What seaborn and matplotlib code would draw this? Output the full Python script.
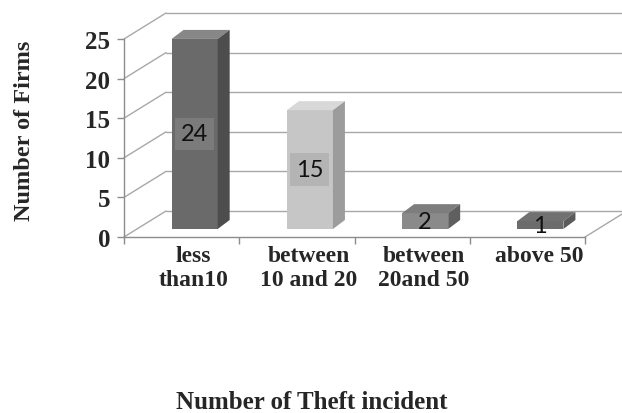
import numpy as np
import pandas as pd
import seaborn as sns
import matplotlib
matplotlib.use("Agg")
import matplotlib.pyplot as plt
from matplotlib.patches import Polygon
from matplotlib.transforms import Affine2D, ScaledTranslation

# ---- data ----
categories = ["less\nthan10", "between\n10 and 20", "between\n20and 50", "above 50"]
values = [24, 15, 2, 1]
y_ticks = [0, 5, 10, 15, 20, 25]
x_title = "Number of Theft incident"
y_title = "Number of Firms"

# ---- styles ----
front_colors = ["#6a6a6a", "#c6c6c6", "#8a8a8a", "#6c6c6c"]
top_colors = ["#878787", "#d8d8d8", "#7d7d7d", "#717171"]
side_colors = ["#4d4d4d", "#9c9c9c", "#5f5f5f", "#5a5a5a"]
box_colors = ["#7b7b7b", "#b4b4b4", None, None]
grid_color = "#a8a8a8"
serif = ["Liberation Serif", "DejaVu Serif"]

sns.set_theme(style="white")
plt.rcParams["font.family"] = serif

W, H = 622, 414
fig = plt.figure(figsize=(W / 100, H / 100), dpi=100)
ax_l, ax_r, ax_b, ax_t = 124, 585, 238, 40
ax = fig.add_axes([ax_l / W, (H - ax_b) / H, (ax_r - ax_l) / W, (ax_b - ax_t) / H])
ax.patch.set_alpha(0)

df = pd.DataFrame({"cat": categories, "n": values})
sns.barplot(data=df, x="cat", y="n", hue="cat", palette=front_colors,
            legend=False, width=0.4, saturation=1, ax=ax, zorder=3)
ax.set_xlim(-0.5, len(categories) - 0.5)
ax.set_ylim(0, y_ticks[-1])

xl, xr = ax.get_xlim()
yb, yt = ax.get_ylim()
ux = (xr - xl) / (ax_r - ax_l)   # data units per pixel
uy = (yt - yb) / (ax_b - ax_t)

# walls (pseudo-3D decoration)
wdx, wdy = 42 * ux, 26 * uy
for t in y_ticks:
    ax.plot([xl + wdx, xr + wdx + 0.3], [t + wdy, t + wdy], color=grid_color,
            lw=1.0, clip_on=False, zorder=1)
    ax.plot([xl, xl + wdx], [t, t + wdy], color=grid_color, lw=1.0,
            clip_on=False, zorder=1)
ax.plot([xr, xr + wdx], [0, wdy], color=grid_color, lw=1.0, clip_on=False, zorder=1)

# bars: front face shift + top & side faces
f0x, f0y = 13 * ux, 8 * uy
f1x, f1y = 25 * ux, 17 * uy
for i, p in enumerate(ax.patches[:len(values)]):
    x, w, h = p.get_x(), p.get_width(), p.get_height()
    p.set_transform(Affine2D().translate(f0x, f0y) + ax.transData)
    p.set_edgecolor("none")
    top = Polygon([(x + f0x, h + f0y), (x + w + f0x, h + f0y),
                   (x + w + f1x, h + f1y), (x + f1x, h + f1y)],
                  closed=True, facecolor=top_colors[i], edgecolor="none",
                  zorder=3, clip_on=False)
    side = Polygon([(x + w + f0x, f0y), (x + w + f1x, f1y),
                    (x + w + f1x, h + f1y), (x + w + f0x, h + f0y)],
                   closed=True, facecolor=side_colors[i], edgecolor="none",
                   zorder=3, clip_on=False)
    ax.add_patch(top)
    ax.add_patch(side)
    bbox = None
    if box_colors[i]:
        bbox = dict(facecolor=box_colors[i], edgecolor="none", pad=4)
    ax.text(x + w / 2 + f0x, h / 2 + f0y, str(values[i]), ha="center",
            va="center", fontsize=17, family=["Lato", "DejaVu Sans"],
            color="#111111", bbox=bbox, zorder=5, clip_on=False)

# axes styling
for s in ["top", "right"]:
    ax.spines[s].set_visible(False)
for s in ["left", "bottom"]:
    ax.spines[s].set_color("#8c8c8c")
    ax.spines[s].set_linewidth(1.0)

ax.set_yticks(y_ticks)
ax.set_yticklabels([str(t) for t in y_ticks])
ax.tick_params(axis="y", length=5, width=1.0, color="#8c8c8c", pad=5,
               labelsize=18, left=True)
for lbl in ax.get_yticklabels():
    lbl.set_fontweight("bold")

ax.set_xticks(range(len(categories)))
ax.set_xticklabels(categories)
ax.set_xticks(np.arange(-0.5, len(categories), 1.0), minor=True)
ax.tick_params(axis="x", which="major", length=0, pad=6, labelsize=17)
ax.tick_params(axis="x", which="minor", length=5, width=1.0, color="#8c8c8c",
               bottom=True)
shift = ScaledTranslation(12 / 100, 0, fig.dpi_scale_trans)
for lbl in ax.get_xticklabels():
    lbl.set_fontweight("bold")
    lbl.set_linespacing(1.15)
    lbl.set_transform(lbl.get_transform() + shift)

ax.set_xlabel(x_title, fontsize=18, fontweight="bold")
ax.xaxis.set_label_coords((312 - ax_l) / (ax_r - ax_l), (ax_b - 403) / (ax_b - ax_t))
ax.xaxis.label.set_va("center")
ax.set_ylabel(y_title, fontsize=17.5, fontweight="bold")
ax.yaxis.set_label_coords((25 - ax_l) / (ax_r - ax_l), (ax_b - 131) / (ax_b - ax_t))
ax.yaxis.label.set_va("center")

fig.savefig("out.png", dpi=100)
